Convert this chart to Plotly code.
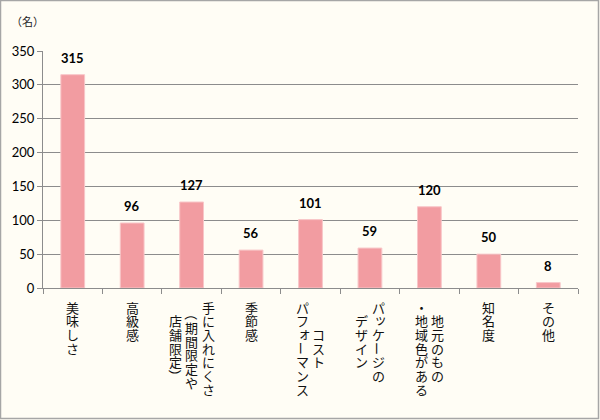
import plotly.graph_objects as go

categories = ["美味しさ", "高級感", "手に入れにくさ（期間限定や店舗限定）", "季節感",
              "コストパフォーマンス", "パッケージのデザイン", "地元のもの・地域色がある",
              "知名度", "その他"]
# label columns (right-to-left vertical writing)
label_columns = [
    ["美味しさ"],
    ["高級感"],
    ["手に入れにくさ", "（期間限定や", "店舗限定）"],
    ["季節感"],
    ["コスト", "パフォーマンス"],
    ["パッケージの", "デザイン"],
    ["地元のもの", "・地域色がある"],
    ["知名度"],
    ["その他"],
]
values = [315, 96, 127, 56, 101, 59, 120, 50, 8]
y_ticks = [0, 50, 100, 150, 200, 250, 300, 350]

BG = "#FFFDF5"
L, R, T, B = 43, 22, 51, 132
W, H = 600, 420
PW, PH = W - L - R, H - T - B

fig = go.Figure()
fig.add_trace(go.Bar(
    x=categories, y=values,
    marker=dict(color="#F29CA1", line=dict(color="#F8C6C8", width=1)),
    hoverinfo="skip",
))

ann = []
# data labels
for c, v in zip(categories, values):
    ann.append(dict(x=c, y=v, xref="x", yref="y", text=f"<b>{v}</b>",
                    showarrow=False, yanchor="bottom", yshift=7,
                    font=dict(family="Lato, Noto Sans", size=13, color="#000")))

# vertical category labels (one annotation per character, written top-to-bottom)
step = 13.7
colstep = 16.5
rotate_chars = set("ー（）")
small_chars = set("ッォャュョァィゥェ")
for c, cols in zip(categories, label_columns):
    n = len(cols)
    M = max(len(s) for s in cols)
    for i, col in enumerate(cols):
        xs = ((n - 1) / 2 - i) * colstep
        start = 19 + (M - len(col)) * step / 2
        for k, ch in enumerate(col):
            ys = -(start + k * step)
            angle = 90 if ch in rotate_chars else 0
            dx, dy = (2, 2) if ch in small_chars else (0, 0)
            ann.append(dict(x=c, y=0, xref="x", yref="paper", text=ch,
                            showarrow=False, xanchor="center", yanchor="middle",
                            xshift=xs + dx, yshift=ys + dy, textangle=angle,
                            font=dict(family="Noto Sans CJK JP", size=13, color="#111")))

ann.append(dict(x=(27 - L) / PW, y=(T + PH - 21) / PH, xref="paper", yref="paper",
                text="（名）", showarrow=False, xanchor="center", yanchor="middle",
                font=dict(family="Noto Sans CJK JP", size=11, color="#222")))

fig.update_layout(
    width=W, height=H,
    margin=dict(l=L, r=R, t=T, b=B),
    paper_bgcolor=BG, plot_bgcolor=BG,
    bargap=0.6, showlegend=False,
    annotations=ann,
    shapes=[dict(type="rect", xref="paper", yref="paper",
                 x0=(0.5 - L) / PW, x1=(W - 1.5 - L) / PW,
                 y0=(T + PH - (H - 1.5)) / PH, y1=(T + PH - 0.5) / PH,
                 line=dict(color="#A6A6A6", width=1.5), layer="below")],
)
fig.update_xaxes(
    type="category", showticklabels=False, showgrid=False,
    showline=True, linecolor="#8C8C8C", linewidth=1,
    ticks="outside", tickson="boundaries", ticklen=5, tickcolor="#8C8C8C",
    range=[-0.5, len(categories) - 0.5], fixedrange=True,
)
fig.update_yaxes(
    range=[0, 350], tickvals=y_ticks, showgrid=True, gridcolor="#8C8C8C", gridwidth=1,
    showline=True, linecolor="#8C8C8C", linewidth=1,
    ticks="outside", ticklen=5, tickcolor="#8C8C8C",
    tickfont=dict(family="Lato, Noto Sans", size=13, color="#000"),
    zeroline=False, fixedrange=True,
)
fig.write_html("out.html")
